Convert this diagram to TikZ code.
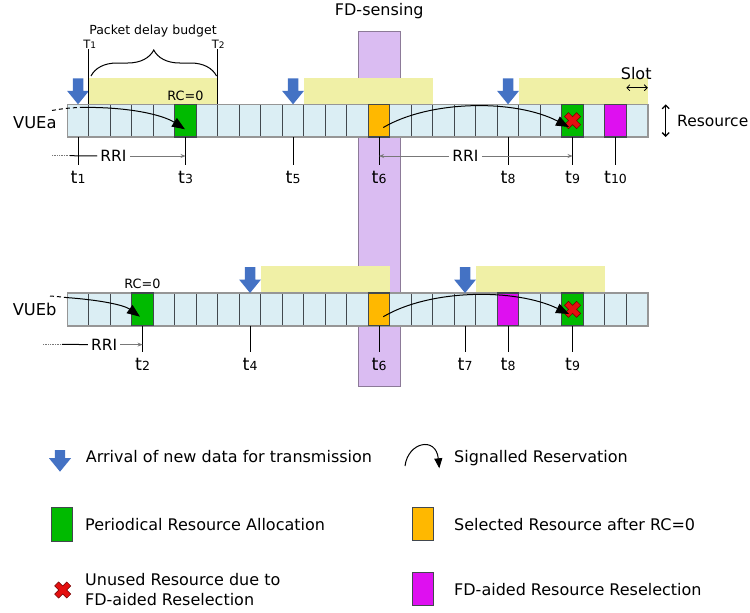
\documentclass[tikz,border=0pt]{standalone}
\usepackage{fontspec}
\setmainfont{DejaVu Sans}
\usetikzlibrary{arrows.meta,decorations.pathreplacing}

\definecolor{cellfill}{RGB}{219,238,244}
\definecolor{cellline}{RGB}{66,72,78}
\definecolor{rowedge}{RGB}{150,150,150}
\definecolor{resgreen}{RGB}{0,186,0}
\definecolor{resorange}{RGB}{255,184,0}
\definecolor{resmagenta}{RGB}{222,16,240}
\definecolor{budget}{RGB}{240,240,166}
\definecolor{fdfill}{RGB}{218,188,242}
\definecolor{fdline}{RGB}{140,122,152}
\definecolor{arrowblue}{RGB}{68,114,196}
\definecolor{xred}{RGB}{228,16,16}
\definecolor{xdark}{RGB}{110,0,0}
\definecolor{dimgray}{RGB}{120,120,120}

\newcommand\setfs[1]{\fontsize{#1}{#1}\selectfont}
\newcommand\tlab[1]{t{\setfs{12.5}#1}}

\tikzset{
  cell/.style={draw=cellline,fill=cellfill,line width=1.2pt,
    minimum width=21.5pt,minimum height=32.7pt,inner sep=0pt,outer sep=0pt},
  rowframe/.style={draw=rowedge,line width=1.6pt},
  legbox/.style={draw=cellline,line width=1pt,minimum width=21pt,
    minimum height=33pt,inner sep=0pt},
  tickline/.style={line width=1pt},
  tlabel/.style={font=\setfs{17.5},inner sep=0pt,anchor=base},
  small/.style={font=\setfs{12.8},inner sep=0pt,anchor=base},
  big/.style={font=\setfs{16},inner sep=0pt,anchor=base},
  legtext/.style={font=\setfs{16},inner sep=0pt,anchor=base west,align=left},
  rrilabel/.style={font=\setfs{15.5},inner sep=3pt},
  dimline/.style={draw=dimgray,line width=0.8pt},
  dimarrow/.style={dimline,-{Stealth[length=5pt,width=4pt]}},
  resv/.style={line width=1pt,-{Triangle[length=13pt,width=10pt]}},
  resvlead/.style={line width=1pt,dash pattern=on 4pt off 3pt},
  pics/dataarrow/.style={code={
    \fill[arrowblue] (0,0) -- (-11,-13.5) -- (-5.2,-13.5) -- (-5.2,-#1)
      -- (5.2,-#1) -- (5.2,-13.5) -- (11,-13.5) -- cycle;}},
  pics/redx/.style={code={
    \filldraw[fill=xred,draw=xdark,line width=0.5pt,rotate=45]
      (-2.8,-8.6) -- (2.8,-8.6) -- (2.8,-2.8) -- (8.6,-2.8) -- (8.6,2.8)
      -- (2.8,2.8) -- (2.8,8.6) -- (-2.8,8.6) -- (-2.8,2.8) -- (-8.6,2.8)
      -- (-8.6,-2.8) -- (-2.8,-2.8) -- cycle;}},
}

\begin{document}
\begin{tikzpicture}[x=1pt,y=-1pt]
\useasboundingbox (0,0) rectangle (750,613);

% full-duplex sensing window behind both rows
\node[draw=fdline,fill=fdfill,line width=1pt,minimum width=42.5pt,
  minimum height=355pt,inner sep=0pt] (fd) at (379.3,209.2) {};
\node[big] (fdl) at (379.3,15.5) {FD-sensing};

% packet delay budget windows
\fill[budget] (88.8,78) rectangle (217.8,104.3);
\fill[budget] (303.8,78) rectangle (432.8,104.3);
\fill[budget] (518.8,78) rectangle (647.8,104.3);
\fill[budget] (260.8,266) rectangle (389.8,292.7);
\fill[budget] (475.8,266) rectangle (604.8,292.7);

% slot rows of the two vehicles
\foreach \i in {0,...,26} {
  \node[cell] (a\i) at ({67.3+(\i+0.5)*21.5},120.65) {};
  \node[cell] (b\i) at ({67.3+(\i+0.5)*21.5},309.35) {};
}
\draw[rowframe] (a0.north west) rectangle (a26.south east);
\draw[rowframe] (b0.north west) rectangle (b26.south east);
\foreach \r/\i/\c in {a/5/resgreen,a/14/resorange,a/23/resgreen,a/25/resmagenta,
                      b/3/resgreen,b/14/resorange,b/20/resmagenta,b/23/resgreen} {
  \node[cell,fill=\c] (\r\i c) at (\r\i) {};
}
\pic at (a23c) {redx};
\pic at (b23c) {redx};

% arrivals of new data
\pic at (a0.north) {dataarrow=26};
\pic at (a10.north) {dataarrow=26};
\pic at (a20.north) {dataarrow=26};
\pic at (b8.north) {dataarrow=26};
\pic at (b18.north) {dataarrow=26};

% row names
\node[font=\setfs{16.3},inner sep=0pt,anchor=base east] (vuea) at (56.7,128.3) {VUEa};
\node[font=\setfs{16.3},inner sep=0pt,anchor=base east] (vueb) at (56.7,315) {VUEb};
\node[small] (rca) at (185.5,100) {RC=0};
\node[small] (rcb) at (142.5,288.3) {RC=0};

% packet delay budget brace and its bounds
\draw[line width=1pt] (a1.north west) -- ++(0,-55) coordinate (T1top);
\draw[line width=1pt] (a6.north east) -- ++(0,-55) coordinate (T2top);
\node[font=\setfs{11.5},inner sep=0pt,anchor=base] (T1) at (89.8,48)
  {T{\setfs{9}1}};
\node[font=\setfs{11.5},inner sep=0pt,anchor=base] (T2) at (218.3,48)
  {T{\setfs{9}2}};
\coordinate (br1) at (91,76);
\coordinate (br2) at (216.5,76);
\draw[line width=1pt,decorate,decoration={brace,amplitude=26pt}] (br1) -- (br2);
\node[font=\setfs{12.5},inner sep=0pt,anchor=base] (pdb) at (153,34.7)
  {Packet delay budget};

% slot and resource extents
\path (a26.north west) ++(0,-16.6) coordinate (sl1);
\path (a26.north east) ++(0,-16.6) coordinate (sl2);
\draw[line width=0.8pt,{Straight Barb[length=3pt,width=6pt]}-{Straight Barb[length=3pt,width=6pt]}]
  (sl1) -- (sl2);
\node[big] (slot) at (636.2,79) {Slot};
\coordinate (rs1) at (665.7,104.3);
\coordinate (rs2) at (665.7,137);
\draw[line width=1.3pt,{Straight Barb[length=3.5pt,width=7pt]}-{Straight Barb[length=3.5pt,width=7pt]}]
  (rs1) -- (rs2);
\node[font=\setfs{15.5},inner sep=0pt,anchor=base west] (res) at (677,126.7) {Resource};

% time marks
\foreach \c/\n in {0/1,5/3,10/5,14/6,20/8,23/9,25/10} {
  \draw[tickline] (a\c.south) -- ++(0,28) coordinate (ta\n);
  \node[tlabel] (lta\n) at ([yshift=-18.5pt]ta\n) {\tlab{\n}};
}
\foreach \c/\n in {3/2,8/4,14/6,18/7,20/8,23/9} {
  \draw[tickline] (b\c.south) -- ++(0,26.7) coordinate (tb\n);
  \node[tlabel] (ltb\n) at ([yshift=-18.3pt]tb\n) {\tlab{\n}};
}

% reservation intervals
\node[rrilabel] (rri1) at (113.5,156) {RRI};
\coordinate (rd1) at (52,155.7);
\coordinate (rk1) at (70,155.7);
\draw[dimgray,line width=0.7pt,densely dotted] (rd1) -- (rk1);
\draw[line width=1pt] (rk1) -- (rri1.west);
\draw[dimarrow] (rri1.east) -- (rri1.east -| ta3);

\node[rrilabel] (rri2) at (465.5,156) {RRI};
\draw[dimarrow] (rri2.west) -- (rri2.west -| ta6);
\draw[dimarrow] (rri2.east) -- (rri2.east -| ta9);

\node[rrilabel] (rri3) at (104.2,344.6) {RRI};
\coordinate (rd3) at (43,344.3);
\coordinate (rk3) at (62,344.3);
\draw[dimgray,line width=0.7pt,densely dotted] (rd3) -- (rk3);
\draw[line width=1pt] (rk3) -- (rri3.west);
\draw[dimarrow] (rri3.east) -- (rri3.east -| tb2);

% signalled reservations
\coordinate (sa1) at (52,110.5);
\coordinate (ma1) at (83,107.4);
\coordinate (ea1) at (185,129.3);
\draw[resvlead] (sa1) .. controls (62,108.6) and (72,107.6) .. (ma1);
\draw[resv] (ma1) .. controls (130,107) and (163,115) .. (ea1);

\coordinate (sa2) at (383.3,127.5);
\coordinate (ea2) at (569,127);
\draw[resv] (sa2) .. controls (430,100) and (515,99) .. (ea2);

\coordinate (sb1) at (50,296);
\coordinate (mb1) at (67,297.6);
\coordinate (eb1) at (140,316.7);
\draw[resvlead] (sb1) .. controls (56,296.4) and (62,297) .. (mb1);
\draw[resv] (mb1) .. controls (100,300) and (124,305) .. (eb1);

\coordinate (sb2) at (383.3,316.7);
\coordinate (eb2) at (569,314);
\draw[resv] (sb2) .. controls (430,289) and (515,288) .. (eb2);

% legend
\pic at (60,471.7) {dataarrow=21.7};
\node[legtext] (lgt1) at (85.7,462.7) {Arrival of new data for transmission};

\coordinate (lc1) at (405,466);
\coordinate (lc2) at (439.3,468.3);
\draw[line width=1pt,-{Triangle[length=10pt,width=8pt]}]
  (lc1) .. controls (408,442) and (436,436) .. (lc2);
\node[legtext] (lgt2) at (454,462.3) {Signalled Reservation};

\node[legbox,fill=resgreen,minimum height=34pt] (lg3) at (62.2,524.2) {};
\node[legtext] (lgt3) at (85,530) {Periodical Resource Allocation};

\node[legbox,fill=resorange] (lg4) at (422.8,523.7) {};
\node[legtext] (lgt4) at (454,530) {Selected Resource after RC=0};

\pic at (62.7,590) {redx};
\node[legtext] (lgt5) at (85,585.7) {Unused Resource due to};
\node[legtext] (lgt6) at (85,605.3) {FD-aided Reselection};

\node[legbox,fill=resmagenta] (lg6) at (422.8,589.2) {};
\node[legtext] (lgt7) at (454,595.7) {FD-aided Resource Reselection};
\end{tikzpicture}
\end{document}
